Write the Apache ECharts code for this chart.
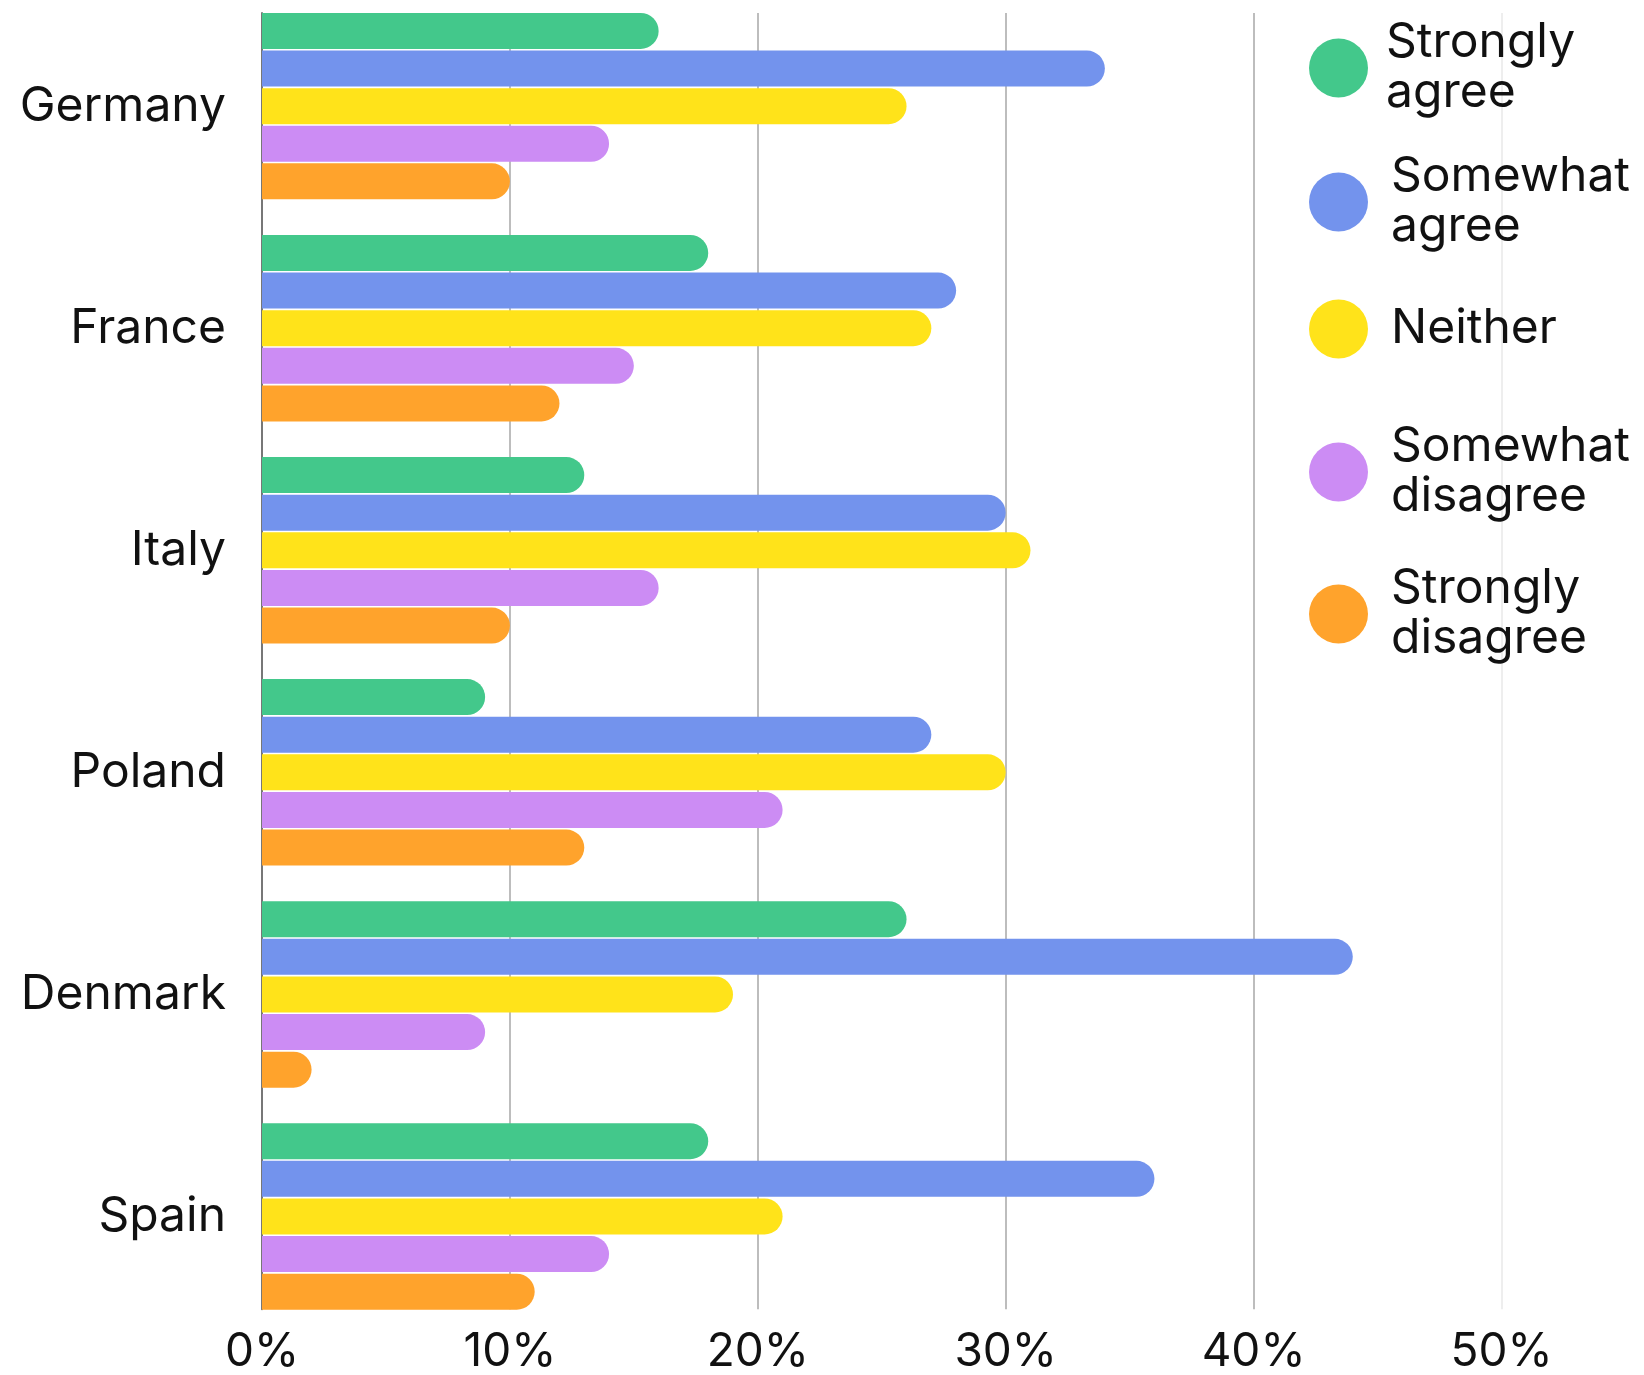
<!DOCTYPE html>
<html>
<head>
<meta charset="utf-8">
<script src="https://cdn.jsdelivr.net/npm/echarts@6/dist/echarts.min.js"></script>
<style>
  html, body { margin: 0; padding: 0; background: #fff; }
  #chart { width: 1644px; height: 1375px; }
</style>
</head>
<body>
<div id="chart"></div>
<script>
const countries = ['Germany', 'France', 'Italy', 'Poland', 'Denmark', 'Spain']
const seriesNames = ['Strongly agree', 'Somewhat agree', 'Neither', 'Somewhat disagree', 'Strongly disagree']
const stronglyAgree = [16, 18, 13, 9, 26, 18]
const somewhatAgree = [34, 28, 30, 27, 44, 36]
const neither = [26, 27, 31, 30, 19, 21]
const somewhatDisagree = [14, 15, 16, 21, 9, 14]
const stronglyDisagree = [10, 12, 10, 13, 2, 11]
const xTicks = [0, 10, 20, 30, 40, 50]

const colors = ['#43C88B', '#7393ED', '#FFE31A', '#CC8CF4', '#FFA32C']
const values = [stronglyAgree, somewhatAgree, neither, somewhatDisagree, stronglyDisagree]
const FONT = 'Inter'

// one legend per item so they can sit at the same spots as the picture
const legendTops = [7, 141, 299.5, 411, 553]
const legendTextLeft = [13, 18, 18, 18, 18]

const chart = echarts.init(document.getElementById('chart'), null, { renderer: 'canvas' })

const option = {
  animation: false,
  grid: [
    // bars (bands overflow the visible plot a little, like the original)
    { left: 262, right: 142.5, top: -4.9, bottom: 47.5, outerBoundsMode: 'none' },
    // gridlines / axes
    { left: 262, right: 142.5, top: 13, bottom: 65.7, outerBoundsMode: 'none' },
  ],
  xAxis: [
    { gridIndex: 0, type: 'value', min: xTicks[0], max: xTicks[xTicks.length - 1], show: false },
    {
      gridIndex: 1,
      type: 'value',
      min: xTicks[0],
      max: xTicks[xTicks.length - 1],
      interval: 10,
      axisLine: { show: false },
      axisTick: { show: false },
      axisLabel: {
        formatter: '{value}%',
        fontFamily: FONT,
        fontSize: 46,
        color: '#111',
        margin: 20,
      },
      splitLine: {
        show: true,
        lineStyle: { color: ['#bdbdbd', '#bdbdbd', '#bdbdbd', '#bdbdbd', '#bdbdbd', '#eeeeee'], width: 2 },
      },
    },
  ],
  yAxis: [
    {
      gridIndex: 0,
      type: 'category',
      data: countries,
      inverse: true,
      axisLine: { show: false },
      axisTick: { show: false },
      axisLabel: {
        fontFamily: FONT,
        fontSize: 48,
        color: '#111',
        margin: 36,
      },
    },
    {
      gridIndex: 1,
      type: 'value',
      axisLine: { show: true, onZero: false, lineStyle: { color: '#777', width: 2 } },
      axisTick: { show: false },
      axisLabel: { show: false },
      splitLine: { show: false },
    },
  ],
  legend: seriesNames.map((n, i) => ({
    data: [n],
    top: legendTops[i],
    left: 1309,
    orient: 'vertical',
    padding: 0,
    icon: 'circle',
    itemWidth: 59,
    itemHeight: 59,
    selectedMode: false,
    formatter: (name) => name.replace(' ', '\n'),
    textStyle: {
      fontFamily: FONT,
      fontSize: 48,
      lineHeight: 50,
      color: '#111',
      padding: n.indexOf(' ') > 0 ? [0, 0, 22, legendTextLeft[i]] : [0, 0, 0, legendTextLeft[i]],
    },
  })),
  series: seriesNames.map((n, i) => ({
    name: n,
    type: 'bar',
    xAxisIndex: 0,
    yAxisIndex: 0,
    barWidth: 36,
    barGap: '4.5%',
    itemStyle: { color: colors[i], borderRadius: [0, 18, 18, 0] },
    data: values[i],
  })),
}

chart.setOption(option)
</script>
</body>
</html>
